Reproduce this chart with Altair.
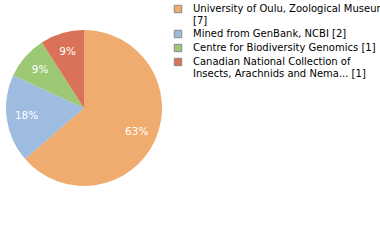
import altair as alt
import pandas as pd
import math

categories = [
    "University of Oulu, Zoological Museum [7]",
    "Mined from GenBank, NCBI [2]",
    "Centre for Biodiversity Genomics [1]",
    "Canadian National Collection of Insects, Arachnids and Nema... [1]",
]
legend_labels = [
    "University of Oulu, Zoological Museum|[7]",
    "Mined from GenBank, NCBI [2]",
    "Centre for Biodiversity Genomics [1]",
    "Canadian National Collection of|Insects, Arachnids and Nema... [1]",
]
counts = [7, 2, 1, 1]
colors = ["#efac6e", "#9dbce0", "#9dc874", "#da7259"]

total = sum(counts)
df = pd.DataFrame({
    "cat": legend_labels,
    "count": counts,
    "order": list(range(len(counts))),
    "pct": [f"{math.floor(100 * c / total)}%" for c in counts],
})

color = alt.Color(
    "cat:N",
    scale=alt.Scale(domain=legend_labels, range=colors),
    sort=legend_labels,
    legend=alt.Legend(
        title=None,
        orient="none",
        legendX=173,
        legendY=4,
        labelExpr="split(datum.label, '|')",
        labelFont="DejaVu Sans",
        labelFontSize=10,
        labelColor="#000000",
        labelLimit=300,
        labelOffset=10,
        symbolType="square",
        symbolSize=55,
        symbolStrokeColor="#888888",
        symbolStrokeWidth=1,
        rowPadding=2,
    ),
)

base = alt.Chart(df).encode(
    theta=alt.Theta("count:Q", stack=True),
    order=alt.Order("order:Q"),
)

pie = base.mark_arc(outerRadius=78, stroke=None).encode(
    color=color,
    x=alt.value(84),
    y=alt.value(108),
)

labels = base.mark_text(
    radius=58, font="DejaVu Sans", fontSize=10.5, fontWeight="normal", color="white"
).encode(
    text="pct:N",
    x=alt.value(84),
    y=alt.value(108),
)

chart = (pie + labels).properties(
    width=380, height=240, padding=0, autosize=alt.AutoSizeParams(type="none")
).configure_view(stroke=None)

chart.save("out.html", embed_options={"renderer": "svg", "actions": False})
